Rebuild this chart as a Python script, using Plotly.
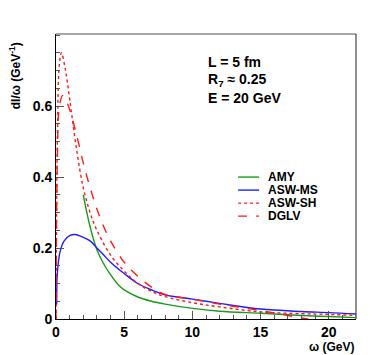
import plotly.graph_objects as go

# data
amy_x = [2, 2.5, 3, 3.5, 4, 4.6, 5, 6, 7, 8, 10, 12, 15, 18, 20, 22]
amy_y = [0.35, 0.26, 0.195, 0.155, 0.125, 0.095, 0.082, 0.062, 0.05, 0.042, 0.03, 0.022, 0.016, 0.01, 0.007, 0.004]

asw_ms_x = [0.05, 0.1, 0.3, 0.6, 1, 1.4, 2, 2.5, 3, 3.5, 4, 5, 6, 7, 8, 10, 12, 15, 18, 20, 22]
asw_ms_y = [0.04, 0.13, 0.19, 0.22, 0.235, 0.238, 0.23, 0.22, 0.2, 0.18, 0.16, 0.128, 0.1, 0.082, 0.068, 0.056, 0.044, 0.028, 0.021, 0.018, 0.014]

asw_sh_x = [0, 0.1, 0.25, 0.4, 0.7, 1, 1.5, 2, 2.5, 3, 4, 5, 6, 7, 8, 10, 12, 15, 18, 20, 22]
asw_sh_y = [0, 0.5, 0.72, 0.75, 0.7, 0.62, 0.48, 0.37, 0.3, 0.25, 0.18, 0.135, 0.1, 0.078, 0.063, 0.046, 0.034, 0.02, 0.015, 0.013, 0.01]

dglv_x = [0, 0.1, 0.25, 0.5, 0.8, 1, 1.5, 2, 2.5, 3, 3.5, 4, 5, 6, 7, 8, 10, 12, 14, 16, 17, 18, 18.5]
dglv_y = [0, 0.45, 0.6, 0.63, 0.61, 0.59, 0.52, 0.44, 0.37, 0.31, 0.26, 0.22, 0.16, 0.12, 0.09, 0.069, 0.056, 0.042, 0.03, 0.017, 0.01, 0.003, 0]

names = ["AMY", "ASW-MS", "ASW-SH", "DGLV"]
colors = ["#1a9a1a", "#1f1fff", "#ff1a1a", "#ff1a1a"]
dashes = ["solid", "solid", "dot", "dash"]
y_ticks = [0, 0.2, 0.4, 0.6]
info = ["L = 5 fm", "R<sub>7</sub> ≈ 0.25", "E = 20 GeV"]

fig = go.Figure()
series = [(amy_x, amy_y), (asw_ms_x, asw_ms_y), (asw_sh_x, asw_sh_y), (dglv_x, dglv_y)]
for (xs, ys), n, c, d in zip(series, names, colors, dashes):
    fig.add_trace(go.Scatter(x=xs, y=ys, name=n, mode="lines",
                             line=dict(color=c, width=1.4, dash=d, shape="spline")))

bold = dict(family="Liberation Sans, Arial, sans-serif", color="black", weight="bold")

# page has an 8px body margin, so the figure is 8px smaller than the window
fig.update_layout(
    width=366, height=347,
    margin=dict(l=48, r=18, t=26, b=36),
    paper_bgcolor="white", plot_bgcolor="white",
    font=dict(bold, size=13),
    showlegend=False,
    xaxis=dict(range=[0, 22], dtick=5, tick0=0, showgrid=False, zeroline=False,
               showline=True, linecolor="black", linewidth=1,
               ticks="inside", ticklen=8, tickcolor="#555",
               tickfont=dict(bold, size=14),
               minor=dict(dtick=1, ticks="inside", ticklen=4, tickcolor="#555")),
    yaxis=dict(range=[0, 0.803], tickvals=y_ticks, ticktext=["0", "0.2", "0.4", "0.6"],
               showgrid=False, zeroline=False,
               showline=True, linecolor="black", linewidth=1,
               ticks="inside", ticklen=8, tickcolor="#555",
               tickfont=dict(bold, size=14),
               minor=dict(dtick=0.05, ticks="inside", ticklen=4, tickcolor="#555")),
    shapes=[
        dict(type="line", xref="paper", yref="paper", x0=0, x1=1, y0=1, y1=1,
             line=dict(color="#8a8a8a", width=1.5)),
        dict(type="line", xref="paper", yref="paper", x0=1, x1=1, y0=0, y1=1,
             line=dict(color="#444", width=1.2)),
    ],
)

# hand-made legend, tighter than plotly's
for i, (n, c, d) in enumerate(zip(names, colors, dashes)):
    ly = 0.498 - i * 0.0457
    fig.add_shape(type="line", xref="paper", yref="paper", x0=0.607, x1=0.677,
                  y0=ly, y1=ly, line=dict(color=c, width=1.4, dash=d))
    fig.add_annotation(text=n, xref="paper", yref="paper", x=0.7, y=ly,
                       xanchor="left", yanchor="middle", showarrow=False,
                       font=dict(bold, size=12))

for i, t in enumerate(info):
    fig.add_annotation(text=t, xref="paper", yref="paper", x=0.5, y=0.9 - i * 0.062,
                       xanchor="left", yanchor="middle", showarrow=False,
                       font=dict(bold, size=14))

fig.add_annotation(text="dI/ω (GeV<sup>-1</sup>)", xref="paper", yref="paper",
                   x=-0.137, y=0.855, textangle=-90, showarrow=False,
                   xanchor="center", yanchor="middle", font=dict(bold, size=12))
fig.add_annotation(text="ω (GeV)", xref="paper", yref="paper", x=1, y=-0.098,
                   xanchor="right", yanchor="middle", showarrow=False,
                   font=dict(bold, size=12))

fig.write_html("out.html")
